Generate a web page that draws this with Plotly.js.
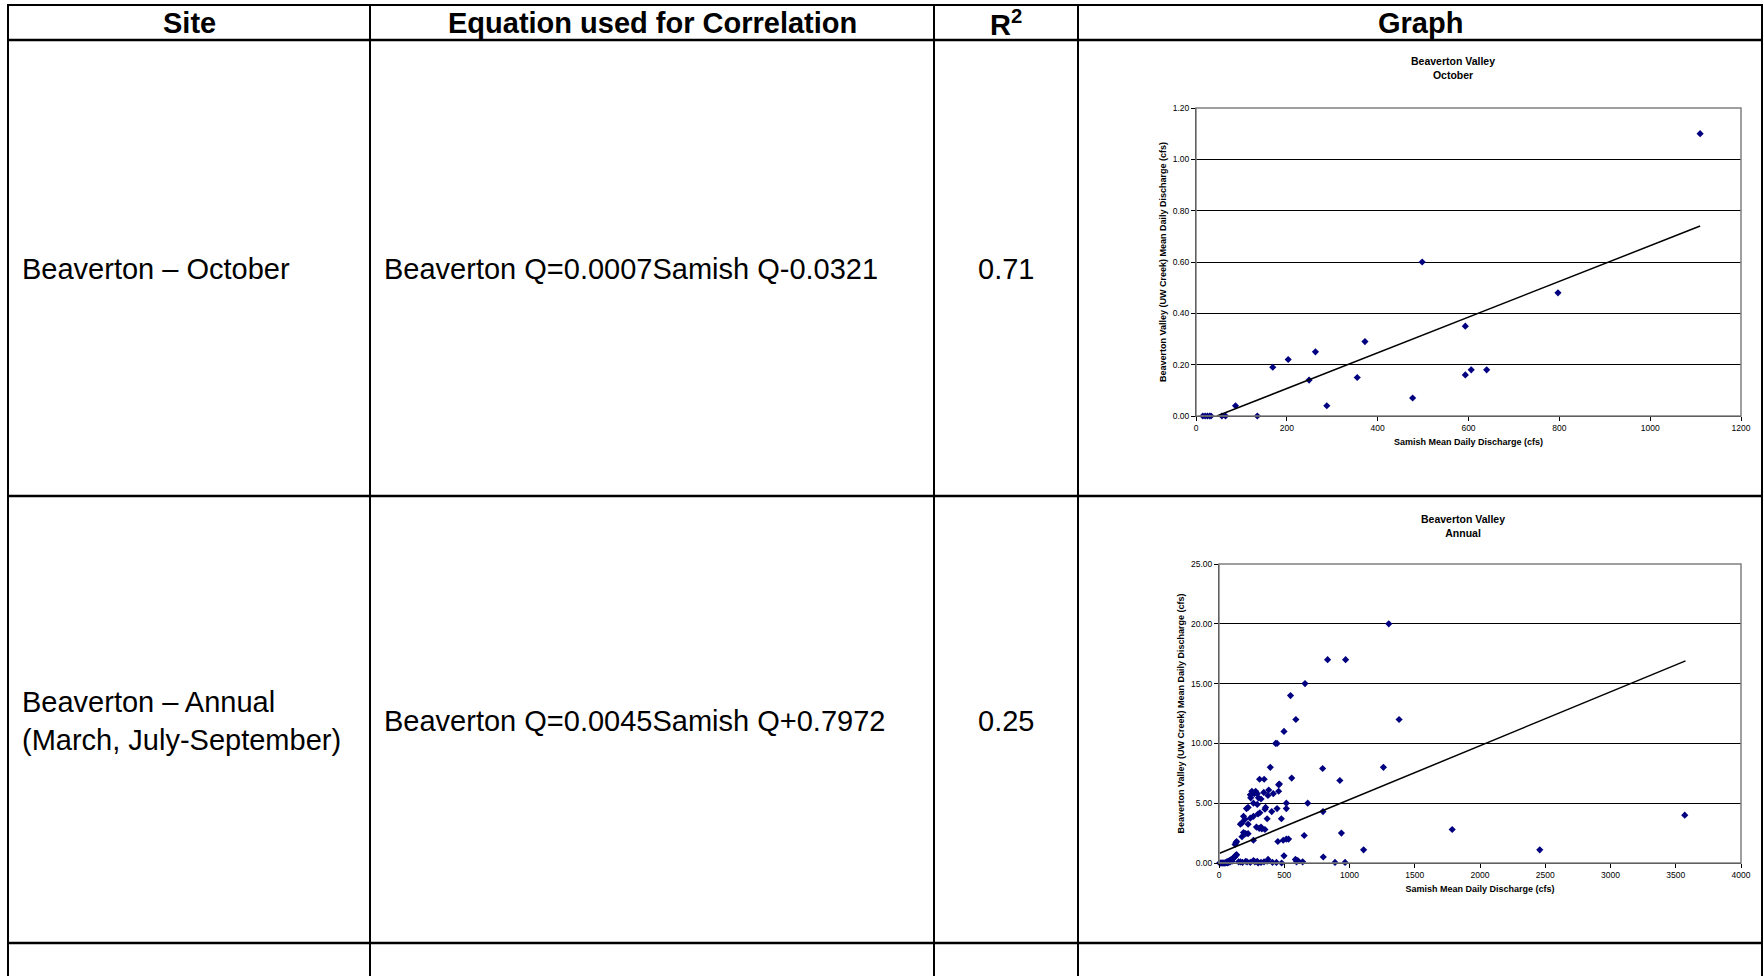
<!DOCTYPE html>
<html>
<head>
<meta charset="utf-8">
<script src="https://cdn.plot.ly/plotly-3.0.1.min.js"></script>
<style>html,body{margin:0;padding:0;background:#fff;}#chart{width:1764px;height:976px;}</style>
</head>
<body>
<div id="chart"></div>
<script>
// ---------- table content ----------
const headers = ["Site", "Equation used for Correlation", "R<sup>2</sup>", "Graph"];
const sites = ["Beaverton – October", "Beaverton – Annual<br>(March, July-September)"];
const equations = ["Beaverton Q=0.0007Samish Q-0.0321", "Beaverton Q=0.0045Samish Q+0.7972"];
const r2Values = ["0.71", "0.25"];
const chartTitles = ["Beaverton Valley<br>October", "Beaverton Valley<br>Annual"];
const xAxisTitle = "Samish Mean Daily Discharge (cfs)";
const yAxisTitle = "Beaverton Valley (UW Creek) Mean Daily Discharge (cfs)";

// ---------- October data ----------
const octX = [15, 20, 25, 30, 33, 57, 65, 87, 135, 169, 203, 249, 263, 288, 355, 372, 477, 498, 593, 593, 606, 640, 797, 1110];
const octY = [0, 0, 0, 0, 0, 0, 0, 0.04, 0, 0.19, 0.22, 0.14, 0.25, 0.04, 0.15, 0.29, 0.07, 0.60, 0.35, 0.16, 0.18, 0.18, 0.48, 1.10];
const octTrendX = [46, 1110];
const octTrendY = [0.0, 0.74];

// ---------- Annual data ----------
const annX = [
  // near zero cluster
  5, 10, 15, 20, 25, 30, 35, 40, 45, 50, 55, 60, 65, 70, 75, 80, 85, 90, 95, 100, 105, 110, 115, 120, 125, 130, 135,
  // low row
  150, 164, 180, 205, 215, 240, 264, 275, 293, 300, 322, 345, 369, 376, 410, 440, 480, 498, 586, 594, 604, 641, 799, 889, 966,
  // upper branch and scattered points
  123, 130, 135, 164, 176, 176, 188, 188, 199, 205, 211, 223, 223, 223, 240, 240, 243, 252, 264, 264, 264, 270, 281, 287, 293, 293,
  299, 302, 308, 311, 313, 322, 322, 328, 343, 346, 352, 352, 357, 369, 375, 381, 393, 404, 416, 434, 445, 445, 451, 457, 457, 463,
  478, 492, 498, 516, 516, 516, 533, 548, 557, 589, 653, 659, 680, 794, 797, 832, 926, 938, 970, 1108, 1260, 1301, 1380, 1787, 2458, 3569
];
const annY = [
  0, 0, 0, 0, 0, 0, 0, 0, 0, 0, 0.05, 0.1, 0, 0.15, 0.05, 0.2, 0.1, 0.25, 0.3, 0.15, 0.35, 0.4, 0.45, 0.5, 0.6, 0.65, 0.7,
  0.1, 0.1, 0.05, 0.15, 0.1, 0.05, 0.2, 0.1, 0.15, 0.0, 0.05, 0.1, 0.15, 0.3, 0.05, 0.05, 0.0, 0.6, 0.3, 0.1, 0.2, 0.1, 0.5, 0.05, 0.05,
  1.55, 1.7, 1.8, 3.25, 3.35, 2.2, 2.55, 3.9, 3.65, 2.45, 4.55, 4.65, 3.25, 2.45, 3.75, 5.7, 5.45, 6.0, 3.9, 5.0, 1.9, 5.8, 6.0, 3.0, 5.8, 4.9,
  4.1, 5.45, 2.9, 7.0, 4.2, 5.35, 3.0, 2.85, 5.9, 7.0, 4.5, 2.8, 4.65, 3.7, 5.65, 6.1, 8.0, 4.3, 5.8, 10.0, 10.0, 4.55, 1.8, 6.0, 6.55, 6.6,
  3.7, 1.9, 11.0, 5.0, 4.55, 2.0, 2.0, 14.0, 7.1, 12.0, 2.3, 15.0, 5.0, 7.9, 4.3, 17.0, 6.9, 2.5, 17.0, 1.1, 8.0, 20.0, 12.0, 2.8, 1.1, 4.0
];
const annTrendX = [5, 3575];
const annTrendY = [0.82, 16.9];

// ---------- geometry helpers (pixels -> paper) ----------
const W = 1764, H = 976;
const px = v => v / W;
const py = v => 1 - v / H;
const FONT = "Liberation Sans, Arial, sans-serif";

const shapes = [];
function hline(y, x0, x1, w) {
  shapes.push({type: 'line', xref: 'paper', yref: 'paper', x0: px(x0), x1: px(x1), y0: py(y), y1: py(y), line: {color: '#000', width: w}});
}
function vline(x, y0, y1, w) {
  shapes.push({type: 'line', xref: 'paper', yref: 'paper', x0: px(x), x1: px(x), y0: py(y0), y1: py(y1), line: {color: '#000', width: w}});
}
const colX = [8, 370, 934, 1078, 1762];
const rowY = [5, 40, 496, 943];
rowY.forEach((y, i) => hline(y, 7, 1763, i === 0 ? 2 : 2.5));
colX.forEach(x => vline(x, 4, 976, 2));

// plot area borders (gray top/right)
['', '2'].forEach(s => {
  shapes.push({type: 'rect', xref: 'x' + s + ' domain', yref: 'y' + s + ' domain', x0: 0, x1: 1, y0: 0, y1: 1,
    line: {color: '#808080', width: 1.5}, layer: 'above'});
});

const annotations = [];
function txt(text, x, y, opts) {
  annotations.push(Object.assign({text: text, xref: 'paper', yref: 'paper', x: px(x), y: py(y), showarrow: false,
    font: {family: FONT, size: 29, color: '#000'}, xanchor: 'center', yanchor: 'middle'}, opts || {}));
}
const colCenters = [189, 652, 1006, 1420];
headers.forEach((h, i) => txt('<b>' + h + '</b>', colCenters[i], 23));
txt(sites[0], 20, 269, {xanchor: 'left'});
txt(sites[1], 20, 721, {xanchor: 'left', align: 'left'});
txt(equations[0], 382, 269, {xanchor: 'left'});
txt(equations[1], 382, 721, {xanchor: 'left'});
txt(r2Values[0], 1006, 269);
txt(r2Values[1], 1006, 721);
txt('<b>' + chartTitles[0] + '</b>', 1453, 68, {font: {family: FONT, size: 10.5, color: '#000'}});
txt('<b>' + chartTitles[1] + '</b>', 1463, 526, {font: {family: FONT, size: 10.5, color: '#000'}});

const tickFont = {family: FONT, size: 8.5, color: '#000'};
const axTitleFont = {family: FONT, size: 9, color: '#000'};
function xax(domain, range, dtick) {
  return {domain: domain, range: range, dtick: dtick, tick0: 0, showgrid: false, zeroline: false,
    showline: true, linecolor: '#000', linewidth: 1, ticks: 'outside', ticklen: 4, tickcolor: '#000',
    tickfont: tickFont, title: {text: '<b>' + xAxisTitle + '</b>', font: axTitleFont, standoff: 6}, fixedrange: true};
}
function yax(domain, range, dtick) {
  return {domain: domain, range: range, dtick: dtick, tick0: 0, tickformat: '.2f', showgrid: true, gridcolor: '#000', gridwidth: 1,
    zeroline: false, showline: true, linecolor: '#000', linewidth: 1, ticks: 'outside', ticklen: 4, tickcolor: '#000',
    tickfont: tickFont, title: {text: '<b>' + yAxisTitle + '</b>', font: axTitleFont, standoff: 4}, fixedrange: true};
}

const layout = {
  width: W, height: H, margin: {l: 0, r: 0, t: 0, b: 0}, paper_bgcolor: '#fff', plot_bgcolor: '#fff',
  showlegend: false,
  xaxis: Object.assign(xax([px(1196), px(1741)], [0, 1200], 200), {anchor: 'y'}),
  yaxis: Object.assign(yax([py(416), py(108)], [0, 1.2], 0.2), {anchor: 'x'}),
  xaxis2: Object.assign(xax([px(1219), px(1741)], [0, 4000], 500), {anchor: 'y2'}),
  yaxis2: Object.assign(yax([py(863), py(564)], [0, 25], 5), {anchor: 'x2'}),
  shapes: shapes, annotations: annotations
};

const marker = {symbol: 'diamond', size: 5.5, color: '#000080', line: {width: 0}};
const data = [
  {x: octX, y: octY, type: 'scatter', mode: 'markers', marker: marker, xaxis: 'x', yaxis: 'y', cliponaxis: false},
  {x: octTrendX, y: octTrendY, type: 'scatter', mode: 'lines', line: {color: '#000', width: 1.5}, xaxis: 'x', yaxis: 'y'},
  {x: annX, y: annY, type: 'scatter', mode: 'markers', marker: marker, xaxis: 'x2', yaxis: 'y2', cliponaxis: false},
  {x: annTrendX, y: annTrendY, type: 'scatter', mode: 'lines', line: {color: '#000', width: 1.5}, xaxis: 'x2', yaxis: 'y2'}
];
Plotly.newPlot('chart', data, layout, {staticPlot: true});
</script>
</body>
</html>
